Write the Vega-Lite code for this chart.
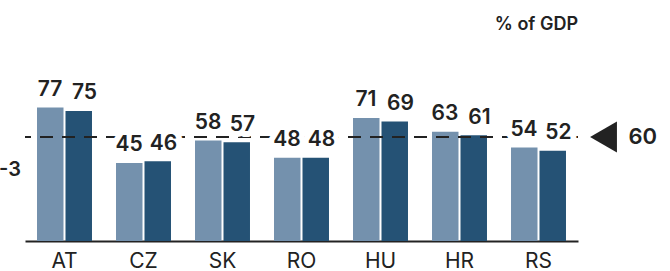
{
  "$schema": "https://vega.github.io/schema/vega-lite/v6.json",
  "width": 553,
  "height": 201,
  "autosize": {"type": "none"},
  "padding": {"left": 25, "right": 92, "top": 40, "bottom": 30},
  "background": "white",
  "title": {"text": "% of GDP", "anchor": "end", "frame": "group", "fontSize": 18, "fontWeight": 600, "font": "Inter", "color": "#222222", "baseline": "alphabetic", "offset": -8},
  "config": {"view": {"stroke": null}, "font": "Inter"},
  "data": {"values": [
    {"country": "AT", "series": "A", "value": 77},
    {"country": "AT", "series": "B", "value": 75},
    {"country": "CZ", "series": "A", "value": 45},
    {"country": "CZ", "series": "B", "value": 46},
    {"country": "SK", "series": "A", "value": 58},
    {"country": "SK", "series": "B", "value": 57},
    {"country": "RO", "series": "A", "value": 48},
    {"country": "RO", "series": "B", "value": 48},
    {"country": "HU", "series": "A", "value": 71},
    {"country": "HU", "series": "B", "value": 69},
    {"country": "HR", "series": "A", "value": 63},
    {"country": "HR", "series": "B", "value": 61},
    {"country": "RS", "series": "A", "value": 54},
    {"country": "RS", "series": "B", "value": 52}
  ]},
  "encoding": {
    "x": {"field": "country", "type": "nominal", "scale": {"domain": ["AT","CZ","SK","RO","HU","HR","RS"], "paddingInner": 0.304, "paddingOuter": 0.152},
      "axis": {"title": null, "ticks": false, "tickSize": 0, "labelPadding": 9, "labelFontSize": 21, "labelFont": "Inter", "labelFontWeight": 400, "labelColor": "#222222", "labelAngle": 0, "domainColor": "#222222", "domainWidth": 2, "grid": false}}
  },
  "resolve": {"scale": {"xOffset": "independent"}},
  "layer": [
    {
      "mark": {"type": "bar"},
      "encoding": {
        "xOffset": {"field": "series", "type": "nominal", "scale": {"paddingInner": 0.07, "paddingOuter": 0}},
        "y": {"field": "value", "type": "quantitative", "scale": {"domain": [0, 115.96], "nice": false}, "axis": null},
        "color": {"field": "series", "type": "nominal", "scale": {"domain": ["A","B"], "range": ["#7491ad", "#255275"]}, "legend": null}
      }
    },
    {
      "mark": {"type": "rule", "color": "#222222", "strokeWidth": 2, "strokeDash": [13, 9], "strokeDashOffset": 3},
      "encoding": {"y": {"datum": 60}, "x": null}
    },
    {
      "encoding": {
        "xOffset": {"field": "series", "type": "nominal", "scale": {"type": "point", "domain": ["A","B"], "range": [13, 47.5], "padding": 0}},
        "y": {"field": "value", "type": "quantitative"},
        "text": {"field": "value", "type": "quantitative"}
      },
      "layer": [
        {"mark": {"type": "text", "align": "center", "baseline": "alphabetic", "dy": -11.5, "fontSize": 21, "fontWeight": 600, "font": "Inter", "stroke": "white", "strokeWidth": 12, "strokeJoin": "round", "fill": "white"}},
        {"mark": {"type": "text", "align": "center", "baseline": "alphabetic", "dy": -11.5, "fontSize": 21, "fontWeight": 600, "font": "Inter", "color": "#222222"}}
      ]
    },
    {
      "data": {"values": [{"country": "RS", "value": 60, "label": "60"}]},
      "layer": [
        {
          "mark": {"type": "point", "shape": "triangle-left", "size": 960, "filled": true, "color": "#222222", "opacity": 1, "xOffset": 65},
          "encoding": {"x": {"field": "country", "type": "nominal"}, "y": {"field": "value", "type": "quantitative"}}
        },
        {
          "mark": {"type": "text", "align": "left", "baseline": "middle", "dx": 90, "fontSize": 22, "fontWeight": 600, "font": "Inter", "color": "#222222"},
          "encoding": {"x": {"field": "country", "type": "nominal"}, "y": {"field": "value", "type": "quantitative"}, "text": {"field": "label"}}
        }
      ]
    },
    {
      "data": {"values": [{"country": "AT", "value": 41, "label": "-3"}]},
      "mark": {"type": "text", "align": "right", "baseline": "middle", "dx": -43.5, "fontSize": 20, "fontWeight": 600, "font": "Inter", "color": "#222222"},
      "encoding": {"x": {"field": "country", "type": "nominal"}, "y": {"field": "value", "type": "quantitative"}, "text": {"field": "label"}}
    }
  ]
}
